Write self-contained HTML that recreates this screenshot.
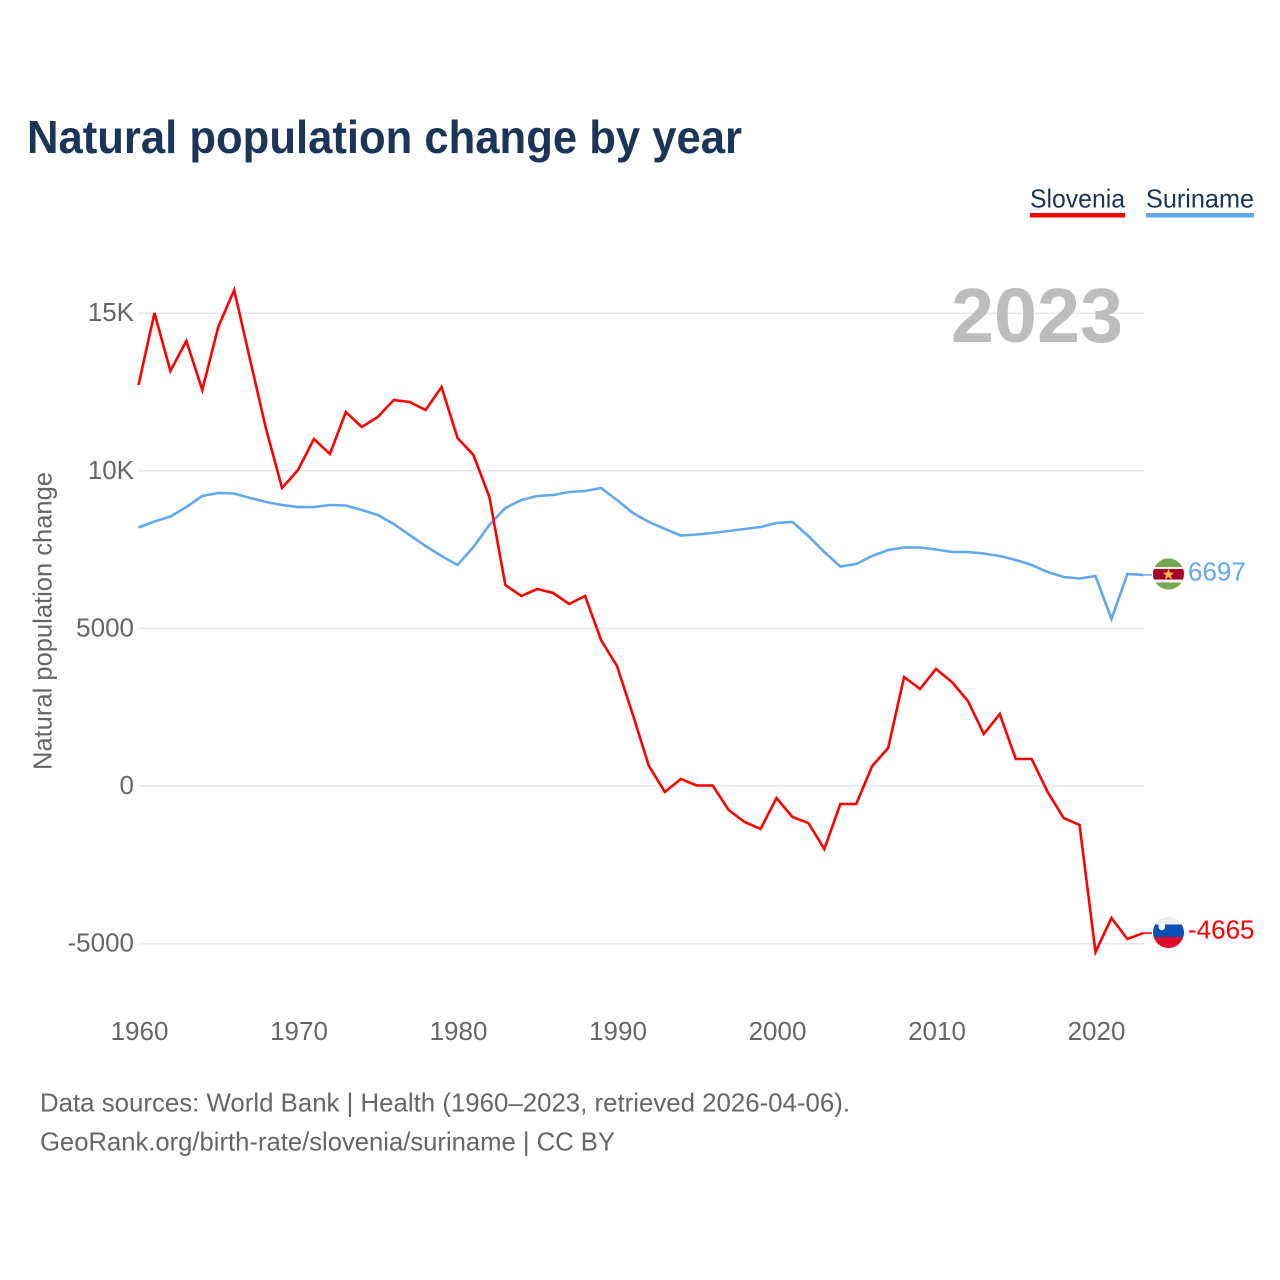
<!DOCTYPE html>
<html lang="en">
<head>
<meta charset="utf-8">
<title>Natural population change by year</title>
<style>
html,body{margin:0;padding:0;background:#fff;}
svg{display:block;font-family:"Liberation Sans",sans-serif;}
</style>
</head>
<body>
<svg id="chart" xmlns="http://www.w3.org/2000/svg" width="1280" height="1280" viewBox="0 0 1280 1280">
<rect x="0" y="0" width="1280" height="1280" fill="#ffffff"/>
<text x="27" y="153" font-size="46" font-weight="700" fill="#1a3557" textLength="715" lengthAdjust="spacingAndGlyphs">Natural population change by year</text>
<g>
<text x="1030" y="207.5" font-size="26" fill="#1a3557" textLength="95" lengthAdjust="spacingAndGlyphs">Slovenia</text>
<rect x="1030" y="213" width="95" height="4.5" fill="#ff0000"/>
</g>
<g>
<text x="1146" y="207.5" font-size="26" fill="#1a3557" textLength="108" lengthAdjust="spacingAndGlyphs">Suriname</text>
<rect x="1146" y="213" width="108" height="4.5" fill="#62a8ee"/>
</g>
<g id="grid"></g>
<g id="yticks"></g>
<g id="xticks"></g>
<text transform="translate(51.5 770) rotate(-90)" font-size="26" fill="#666666" textLength="298" lengthAdjust="spacingAndGlyphs">Natural population change</text>
<text x="951" y="342" font-size="77" font-weight="700" fill="#bdbdbd" textLength="172" lengthAdjust="spacingAndGlyphs">2023</text>
<g id="series"></g>
<defs>
<clipPath id="clip-sr"><circle cx="1168.5" cy="574" r="15.5"/></clipPath>
<clipPath id="clip-si"><circle cx="1168.5" cy="932.5" r="15.5"/></clipPath>
</defs>
<g clip-path="url(#clip-sr)">
<rect x="1150" y="556" width="38" height="36" fill="#76a850"/>
<rect x="1150" y="567" width="38" height="15.5" fill="#f1f1f1"/>
<rect x="1150" y="569" width="38" height="10.5" fill="#a5002a"/>
<polygon points="1168.5,568.5 1170,572.6 1174.2,572.7 1170.9,575.3 1172,579.4 1168.5,577 1165,579.4 1166.1,575.3 1162.8,572.7 1167,572.6" fill="#f7bd3d"/>
</g>
<g clip-path="url(#clip-si)">
<rect x="1150" y="915" width="38" height="36" fill="#eeeeee"/>
<rect x="1150" y="924.5" width="38" height="12.5" fill="#0b4fb5"/>
<rect x="1150" y="937" width="38" height="13" fill="#dd0a2e"/>
<path d="M1158.5 924h6.5v3q0 2.5-3.2 3.5q-3.3-1-3.3-3.5z" fill="#f4f4f4"/>
</g>
<g id="endlabels"></g>
<text x="40" y="1111.5" font-size="26" fill="#666666" textLength="810" lengthAdjust="spacingAndGlyphs">Data sources: World Bank | Health (1960–2023, retrieved 2026-04-06).</text>
<text x="40" y="1150.5" font-size="26" fill="#666666" textLength="575" lengthAdjust="spacingAndGlyphs">GeoRank.org/birth-rate/slovenia/suriname | CC BY</text>
</svg>
<script>
const startYear = 1960;
const sloveniaValues = [12722,15006,13166,14118,12563,14562,15736,13515,11326,9454,10025,11009,10533,11865,11390,11707,12246,12183,11929,12659,11041,10501,9169,6377,6028,6250,6123,5774,6028,4632,3807,2253,635,-190,222,16,16,-761,-1142,-1364,-381,-983,-1174,-1999,-571,-571,635,1206,3458,3077,3712,3299,2697,1650,2284,857,857,-190,-1015,-1237,-5266,-4188,-4854,-4665];
const surinameValues = [8201,8392,8550,8851,9201,9296,9280,9137,9010,8915,8851,8851,8915,8899,8756,8598,8312,7963,7614,7297,7011,7582,8280,8820,9074,9201,9232,9327,9359,9454,9074,8661,8376,8154,7947,7979,8027,8090,8154,8217,8344,8376,7931,7424,6964,7043,7297,7487,7567,7567,7503,7424,7424,7376,7297,7170,7011,6789,6631,6583,6662,5298,6726,6697];
const yTickValues = [15000,10000,5000,0,-5000];
const yTickLabels = ["15K","10K","5000","0","-5000"];
const xTickYears = [1960,1970,1980,1990,2000,2010,2020];

const SVGNS = "http://www.w3.org/2000/svg";
function xScale(year){ return 138.5 + (year - 1960) * 15.95; }
function yScale(value){ return 786 - value * 0.03152; }
function make(tag, attrs, parent, text){
  const el = document.createElementNS(SVGNS, tag);
  for (const k in attrs) el.setAttribute(k, attrs[k]);
  if (text !== undefined) el.textContent = text;
  parent.appendChild(el);
  return el;
}

const grid = document.getElementById("grid");
const yticks = document.getElementById("yticks");
const xticks = document.getElementById("xticks");
const series = document.getElementById("series");
const endlabels = document.getElementById("endlabels");

yTickValues.forEach(function(v, i){
  const y = yScale(v);
  const line = make("line", {x1:139, x2:1144, y1:y, y2:y, stroke:"#e8e8e8", "stroke-width":1.5}, grid);
  
  
  const label = make("text", {x:134, y:y+8, "text-anchor":"end", "font-size":26, fill:"#666666"}, yticks, yTickLabels[i]);
  
  
});

xTickYears.forEach(function(year){
  const label = make("text", {x:xScale(year)+1, y:1040, "text-anchor":"middle", "font-size":26, fill:"#666666"}, xticks, String(year));
  
  
});

function drawSeries(values, color, name){
  const pts = values.map(function(v, i){ return xScale(startYear + i).toFixed(2) + "," + yScale(v).toFixed(2); }).join(" ");
  const path = make("polyline", {points:pts, fill:"none", stroke:color, "stroke-width":2.6, "stroke-linejoin":"miter"}, series);
  
  
  const last = values[values.length - 1];
  const lastX = xScale(startYear + values.length - 1);
  const y = yScale(last);
  const leader = make("line", {x1:lastX, x2:1152, y1:y, y2:y, stroke:color, "stroke-width":1.5}, series);
  
  
  const label = make("text", {x:1188, y:y+5.5, "font-size":26, fill:color}, endlabels, String(last));
  
  
}
drawSeries(surinameValues, "#62a8ee", "suriname");
drawSeries(sloveniaValues, "#ff0000", "slovenia");
</script>
</body>
</html>
